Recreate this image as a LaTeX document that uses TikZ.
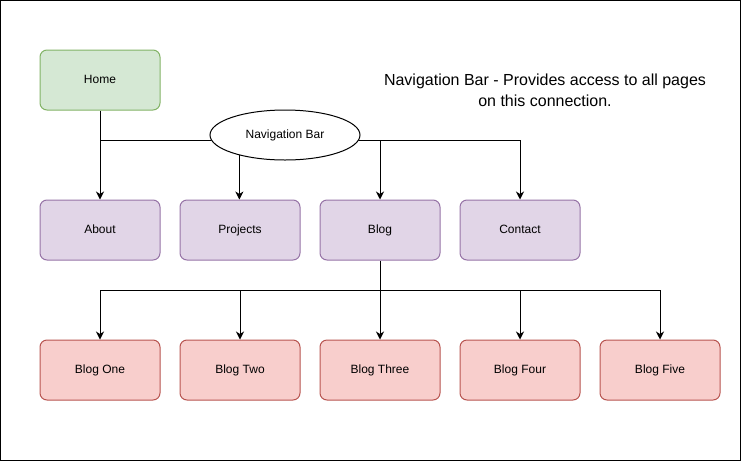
\documentclass[tikz,border=0pt]{standalone}
\usepackage{fontspec}
\setmainfont{Liberation Sans}
\usetikzlibrary{shapes.geometric,arrows.meta,positioning}
\definecolor{homefill}{HTML}{D5E8D4}
\definecolor{homeline}{HTML}{82B366}
\definecolor{secfill}{HTML}{E1D5E7}
\definecolor{secline}{HTML}{9673A6}
\definecolor{postfill}{HTML}{F8CECC}
\definecolor{postline}{HTML}{B85450}
\begin{document}
\begin{tikzpicture}[
  x=1pt, y=1pt,
  page/.style={rectangle, draw, rounded corners=7pt, minimum width=120pt, minimum height=60pt, line width=1pt, font=\fontsize{12}{14}\selectfont, text height=8.6pt, text depth=2.6pt, align=center},
  home/.style={page, fill=homefill, draw=homeline},
  section/.style={page, fill=secfill, draw=secline},
  post/.style={page, fill=postfill, draw=postline},
  link/.style={-{Stealth[length=8pt,width=8pt,inset=2.5pt]}, line width=1pt},
  node distance=140pt
]
\useasboundingbox (0,0) rectangle (741,-461);
\draw[line width=1pt] (0.5,-0.5) rectangle (740.5,-460.5);

% Top
\node[home] (home) at (100,-80) {Home};
\node[ellipse, draw, fill=white, minimum width=150pt, minimum height=50pt, inner sep=0pt, line width=1pt, font=\fontsize{12}{14}\selectfont] (nav) at (285,-135) {Navigation Bar};
\node[align=center, font=\fontsize{16}{21}\selectfont] (note) at (545,-90) {Navigation Bar - Provides access to all pages\\on this connection.};

% Sections
\node[section, below of=home, node distance=150pt] (about) {About};
\node[section, right of=about] (projects) {Projects};
\node[section, right of=projects] (blog) {Blog};
\node[section, right of=blog] (contact) {Contact};

% Blog posts
\node[post, below of=about] (blogone) {Blog One};
\node[post, right of=blogone] (blogtwo) {Blog Two};
\node[post, right of=blogtwo] (blogthree) {Blog Three};
\node[post, right of=blogthree] (blogfour) {Blog Four};
\node[post, right of=blogfour] (blogfive) {Blog Five};

% Connections
\draw[link] (home) -- (about);
\draw[line width=1pt] (nav.184) -- (nav.184 -| home);
\draw[link] (nav.204) -- (nav.204 |- projects.north);
\draw[link] (nav.356) -| (contact);
\draw[link] (nav.356 -| blog) -- (blog);
\coordinate[yshift=-30pt] (fork) at (blog.south);
\draw[link] (blog) -- (blogthree);
\foreach \p in {blogone,blogtwo,blogfour,blogfive}
  \draw[link] (fork) -| (\p);
\end{tikzpicture}
\end{document}
